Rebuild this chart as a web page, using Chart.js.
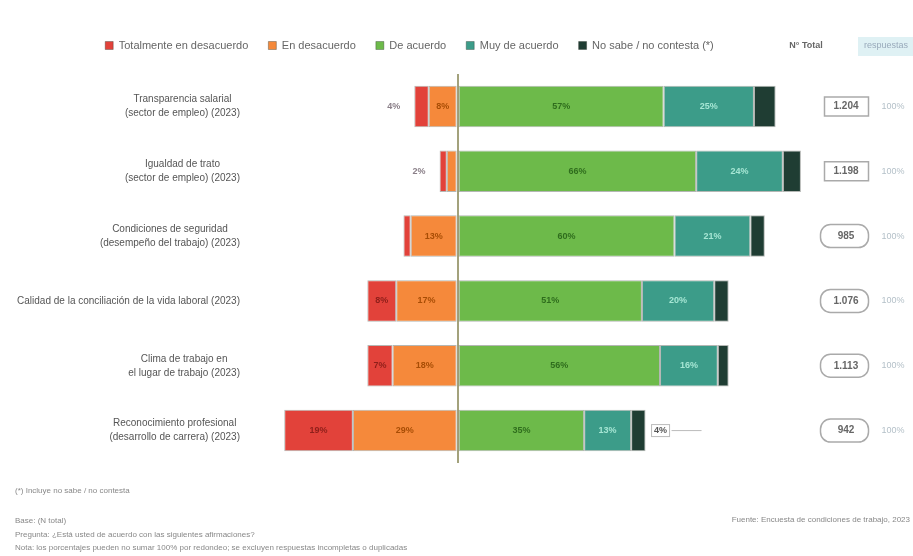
<!DOCTYPE html>
<html>
<head>
<meta charset="utf-8">
<script src="https://cdn.jsdelivr.net/npm/chart.js@4"></script>
<style>
  html, body { margin: 0; padding: 0; background: #fff; }
  #wrap { width: 913px; height: 556px; position: relative; }
</style>
</head>
<body>
<div id="wrap"><canvas id="c"></canvas></div>
<script>
// categories (y axis), one entry per row, split in lines
const categories = [
  ['Transparencia salarial', '(sector de empleo) (2023)'],
  ['Igualdad de trato', '(sector de empleo) (2023)'],
  ['Condiciones de seguridad', '(desempeño del trabajo) (2023)'],
  ['Calidad de la conciliación de la vida laboral (2023)'],
  ['Clima de trabajo en', 'el lugar de trabajo (2023)'],
  ['Reconocimiento profesional', '(desarrollo de carrera) (2023)']
];

// series, in percent
const muyDesacuerdo = [4, 2, 2, 8, 7, 19];
const desacuerdo = [8, 3, 13, 17, 18, 29];
const deAcuerdo = [57, 66, 60, 51, 56, 35];
const muyDeAcuerdo = [25, 24, 21, 20, 16, 13];
const nsnc = [6, 5, 4, 4, 3, 4];

const seriesNames = ['Totalmente en desacuerdo', 'En desacuerdo', 'De acuerdo', 'Muy de acuerdo', 'No sabe / no contesta (*)'];

// right column: total answers per row
const totals = ['1.204', '1.198', '985', '1.076', '1.113', '942'];
const totalsShare = ['100%', '100%', '100%', '100%', '100%', '100%'];

const fontFam = "'Liberation Sans', Arial, sans-serif";
const colors = ['#e2423a', '#f5893b', '#6dba4a', '#3c9c89', '#1f3d33'];
const labelColors = ['#8e1f1a', '#a84d05', '#2f6d1d', '#a6e6d4', '#ffffff'];

// draws percent labels on and next to the bars
const barLabels = {
  id: 'barLabels',
  afterDatasetsDraw: (chart) => {
    const ctx = chart.ctx;
    ctx.save();
    ctx.font = 'bold 9px ' + fontFam;
    ctx.textBaseline = 'middle';
    chart.data.datasets.forEach((ds, di) => {
      const meta = chart.getDatasetMeta(di);
      meta.data.forEach((bar, i) => {
        const v = Math.abs(ds.data[i]);
        const w = Math.abs(bar.x - bar.base);
        const txt = v + '%';
        if (di == 4) {
          if (i == 5) {
            // label outside, right of the last bar
            const x = Math.max(bar.x, bar.base) + 6;
            ctx.strokeStyle = '#bbbbbb';
            ctx.lineWidth = 1;
            ctx.strokeRect(x, bar.y - 6, 18, 12);
            ctx.fillStyle = '#555';
            ctx.textAlign = 'center';
            ctx.fillText(txt, x + 9, bar.y);
            ctx.beginPath();
            ctx.moveTo(x + 20, bar.y);
            ctx.lineTo(x + 50, bar.y);
            ctx.stroke();
          }
          return;
        }
        if (w >= 20) {
          ctx.fillStyle = labelColors[di];
          ctx.textAlign = 'center';
          ctx.fillText(txt, (bar.x + bar.base) / 2, bar.y);
        } else if (di == 0 && i < 2) {
          ctx.fillStyle = '#8a7f88';
          ctx.textAlign = 'right';
          ctx.fillText(txt, Math.min(bar.x, bar.base) - 14, bar.y);
        }
      });
    });
    ctx.restore();
  }
};

// y labels (lines centred on each other, block right aligned),
// right hand totals column and footer notes
const extras = {
  id: 'extras',
  afterDraw: (chart) => {
    const ctx = chart.ctx;
    const y = chart.scales.y;
    ctx.save();
    ctx.textBaseline = 'middle';
    ctx.font = '10px ' + fontFam;
    categories.forEach((lines, i) => {
      const cy = y.getPixelForValue(i);
      let maxW = 0;
      for (const l of lines) {
        maxW = Math.max(maxW, ctx.measureText(l).width);
      }
      const cx = 240 - maxW / 2;
      const lh = 14;
      const y0 = cy - (lines.length - 1) * lh / 2;
      ctx.fillStyle = '#555';
      ctx.textAlign = 'center';
      lines.forEach((l, j) => ctx.fillText(l, cx, y0 + j * lh));
    });

    // totals column
    ctx.font = 'bold 9px ' + fontFam;
    ctx.fillStyle = '#666';
    ctx.textAlign = 'center';
    ctx.fillText('N° Total', 806, 46);
    ctx.fillStyle = '#dff1f4';
    ctx.fillRect(858, 37, 55, 19);
    ctx.fillStyle = '#9ab';
    ctx.font = '9px ' + fontFam;
    ctx.fillText('respuestas', 886, 46);
    totals.forEach((t, i) => {
      const cy = y.getPixelForValue(i);
      ctx.strokeStyle = '#aaaaaa';
      ctx.lineWidth = 1.5;
      ctx.beginPath();
      if (i < 2) {
        ctx.rect(824.5, cy - 9.5, 44, 19);
      } else {
        ctx.roundRect(820.5, cy - 11.5, 48, 23, 10);
      }
      ctx.stroke();
      ctx.fillStyle = '#666';
      ctx.font = 'bold 10px ' + fontFam;
      ctx.fillText(t, 846, cy);
      ctx.fillStyle = '#b4c0c8';
      ctx.font = '9px ' + fontFam;
      ctx.fillText(totalsShare[i], 893, cy);
    });

    // footer
    ctx.textAlign = 'left';
    ctx.fillStyle = '#888';
    ctx.font = '8px ' + fontFam;
    ctx.fillText('(*) Incluye no sabe / no contesta', 15, 491);
    ctx.fillText('Base: (N total)', 15, 521);
    ctx.fillText('Pregunta: ¿Está usted de acuerdo con las siguientes afirmaciones?', 15, 535);
    ctx.fillText('Nota: los porcentajes pueden no sumar 100% por redondeo; se excluyen respuestas incompletas o duplicadas', 15, 548);
    ctx.textAlign = 'right';
    ctx.fillText('Fuente: Encuesta de condiciones de trabajo, 2023', 910, 520);
    ctx.restore();
  }
};

// extra gap below the legend
const legendGap = {
  id: 'legendGap',
  beforeInit: (chart) => {
    const fit = chart.legend.fit;
    chart.legend.fit = function () {
      fit.bind(chart.legend)();
      this.height += 13;
    };
  }
};

const sets = [muyDesacuerdo, desacuerdo, deAcuerdo, muyDeAcuerdo, nsnc];
const datasets = sets.map((s, i) => ({
  label: seriesNames[i],
  data: i < 2 ? s.map((v) => -v) : s,
  backgroundColor: colors[i],
  borderColor: 'rgba(40,50,40,0.35)',
  borderWidth: 1,
  borderSkipped: false,
  // red must stack outside orange on the negative side
  order: i == 0 ? 1 : 0,
  barPercentage: 0.64,
  categoryPercentage: 1
}));

new Chart(document.getElementById('c'), {
  type: 'bar',
  data: {
    labels: categories.map((c) => c.join(' ')),
    datasets: datasets
  },
  options: {
    indexAxis: 'y',
    responsive: true,
    maintainAspectRatio: false,
    animation: false,
    layout: {
      padding: { top: 20, right: 94, bottom: 93, left: 0 }
    },
    scales: {
      x: {
        stacked: true,
        min: -50,
        max: 100,
        ticks: { display: false, stepSize: 50 },
        border: { display: false },
        grid: {
          drawTicks: false,
          color: (c) => (c.tick && c.tick.value == 0 ? '#a3a27c' : 'rgba(0,0,0,0)'),
          lineWidth: 2
        }
      },
      y: {
        stacked: true,
        ticks: { display: false },
        border: { display: false },
        grid: { display: false },
        afterFit: (scale) => { scale.width = 277; }
      }
    },
    plugins: {
      legend: {
        position: 'top',
        labels: {
          boxWidth: 8,
          boxHeight: 8,
          padding: 20,
          color: '#666',
          font: { size: 11, family: fontFam },
          sort: (a, b) => a.datasetIndex - b.datasetIndex
        }
      },
      tooltip: { enabled: false }
    }
  },
  plugins: [barLabels, extras, legendGap]
});
</script>
</body>
</html>
